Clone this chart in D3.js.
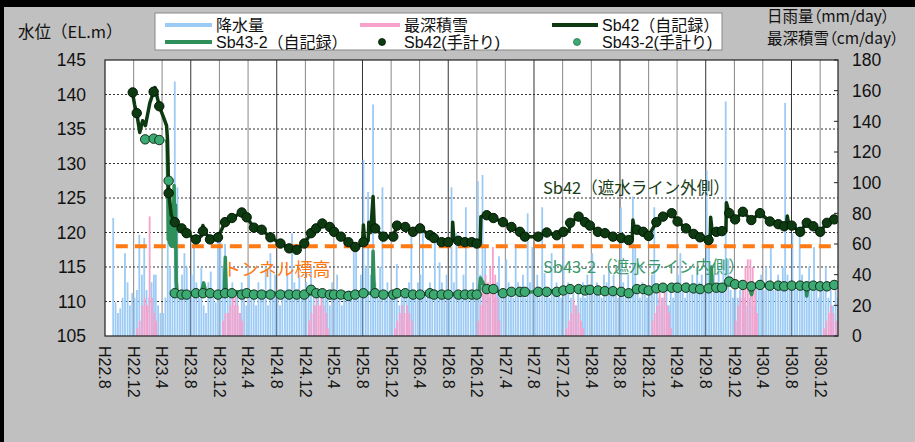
<!DOCTYPE html>
<html><head><meta charset="utf-8">
<script src="https://cdn.jsdelivr.net/npm/d3@7"></script>
<style>body{margin:0;background:#c0c0c0;}svg{display:block}</style>
</head><body>
<svg id="c" width="915" height="442"></svg>
<script>
// ---------------- DATA ----------------
const xTickLabels = ["H22.8","H22.12","H23.4","H23.8","H23.12","H24.4","H24.8","H24.12","H25.4","H25.8","H25.12","H26.4","H26.8","H26.12","H27.4","H27.8","H27.12","H28.4","H28.8","H28.12","H29.4","H29.8","H29.12","H30.4","H30.8","H30.12"];
const leftTicks = [105,110,115,120,125,130,135,140,145];
const rightTicks = [0,20,40,60,80,100,120,140,160,180];
const tunnelLevel = [["2010-09-16",118],["2019-02-15",118]];

// daily rainfall (mm/day) read as 3 samples per month (days below), from 2010-09
const rainStart = [2010, 9];
const rainDays = [5, 15, 25];
const rain = [
 [77,22,15],[18,25,54],[35,20,28],[25,30,66],
 [40,64,30],[25,35,40],[40,20,15],[15,25,60],[45,30,166],[97,30,40],[54,45,30],[40,60,35],[25,45,20],[15,35,42],[30,22,63],[63,45,60],
 [30,25,35],[20,30,15],[35,25,20],[40,30,25],[20,35,30],[25,45,20],[54,30,40],[25,20,30],[30,40,25],[67,35,30],[40,25,30],[35,30,45],
 [25,20,30],[20,25,30],[30,20,35],[25,40,30],[20,30,25],[30,25,55],[60,30,40],[115,45,94],[40,151,35],[30,45,97],[25,35,30],[30,25,47],
 [20,30,25],[25,35,67],[30,25,35],[40,71,30],[25,35,30],[67,30,48],[35,25,40],[30,97,35],[67,30,25],[40,84,30],[25,35,30],[101,40,105],
 [58,30,25],[30,25,35],[52,30,25],[50,35,30],[25,60,35],[30,40,25],[80,35,58],[30,40,25],[84,41,30],[25,54,30],[35,30,25],[58,30,35],
 [25,30,20],[30,25,35],[25,40,30],[54,30,35],[30,25,40],[35,45,30],[40,30,25],[84,35,30],[40,30,91],[58,30,25],[35,30,25],[30,40,84],
 [30,25,20],[25,30,20],[30,25,35],[40,54,30],[25,35,30],[40,30,45],[35,40,30],[108,67,35],[40,30,45],[30,50,153],[50,30,25],[35,25,30],
 [30,25,20],[25,30,20],[35,30,40],[30,45,35],[58,30,35],[40,35,45],[152,40,30],[67,35,30],[71,40,35],[30,45,35],[58,30,25],[35,30,45],
 [25,30,20],[30,25,0]
];
// deepest snow (cm/day), winter months only, same 3 samples per month
const snow = [
 ["2010-12",[0,5,10]],["2011-01",[20,25,20]],["2011-02",[78,25,15]],["2011-03",[10,0,0]],
 ["2011-12",[0,10,15]],["2012-01",[15,20,25]],["2012-02",[26,20,15]],["2012-03",[10,0,0]],
 ["2012-12",[0,10,15]],["2013-01",[20,25,20]],["2013-02",[25,20,15]],["2013-03",[5,0,0]],
 ["2013-12",[0,5,10]],["2014-01",[15,20,15]],["2014-02",[20,15,10]],
 ["2014-12",[10,20,30]],["2015-01",[40,35,45]],["2015-02",[58,40,25]],["2015-03",[10,0,0]],
 ["2015-12",[0,5,10]],["2016-01",[15,24,20]],["2016-02",[15,10,5]],
 ["2016-12",[0,10,15]],["2017-01",[20,30,25]],["2017-02",[30,20,15]],["2017-03",[5,0,0]],
 ["2017-12",[10,20,25]],["2018-01",[35,45,50]],["2018-02",[50,45,30]],["2018-03",[15,0,0]],
 ["2018-12",[0,5,10]],["2019-01",[15,20,15]],["2019-02",[10,5,0]]
];

const sb42Line = [
["2010-11-25",140.5],["2010-12-05",138.5],["2010-12-14",137.3],["2010-12-27",134.5],["2011-01-08",136.2],["2011-01-20",135.5],["2011-02-08",138.8],["2011-02-24",140.4],["2011-03-02",141.0],["2011-03-10",139.8],["2011-03-20",138.3],["2011-04-08",136.6],["2011-04-20",135.5],["2011-04-24",133.5],["2011-04-29",125.7],["2011-05-10",122.5],["2011-05-25",121.5],["2011-06-23",120.6],["2011-07-14",119.9],["2011-08-23",119.0],["2011-09-15",119.5],["2011-09-22",121.0],["2011-09-28",120.2],["2011-10-22",119.0],["2011-11-25",119.3],["2011-12-25",121.5],["2012-01-23",122.1],["2012-03-05",122.9],["2012-03-26",122.2],["2012-04-26",120.7],["2012-05-29",120.4],["2012-07-05",119.3],["2012-08-17",118.4],["2012-09-23",117.7],["2012-10-25",117.5],["2012-11-26",118.4],["2012-12-25",119.9],["2013-01-16",120.6],["2013-02-11",121.3],["2013-03-15",120.8],["2013-04-02",120.1],["2013-05-01",119.4],["2013-06-02",118.6],["2013-07-01",117.9],["2013-08-01",118.2],["2013-08-05",121.1],["2013-08-10",118.8],["2013-08-25",118.8],["2013-08-28",121.5],["2013-09-05",120.0],["2013-09-15",125.2],["2013-09-20",121.0],["2013-09-24",120.6],["2013-10-29",119.4],["2013-12-10",119.4],["2013-12-26",121.0],["2014-01-30",120.8],["2014-03-04",120.1],["2014-04-03",120.6],["2014-05-15",119.6],["2014-06-01",119.2],["2014-07-04",118.6],["2014-08-01",118.6],["2014-08-18",118.8],["2014-08-20",121.5],["2014-08-25",119.0],["2014-09-13",118.8],["2014-10-11",118.6],["2014-11-09",118.6],["2014-11-30",118.4],["2014-12-15",118.6],["2014-12-18",122.3],["2015-01-12",122.5],["2015-02-09",122.1],["2015-03-22",121.5],["2015-04-27",120.8],["2015-06-02",120.1],["2015-06-23",119.4],["2015-08-19",119.4],["2015-09-24",120.0],["2015-11-06",119.6],["2015-12-04",120.1],["2015-12-28",120.2],["2016-01-02",121.4],["2016-02-07",122.3],["2016-03-05",121.5],["2016-03-26",121.0],["2016-04-29",120.1],["2016-05-29",119.9],["2016-07-02",119.4],["2016-08-06",119.2],["2016-09-07",118.9],["2016-09-22",119.0],["2016-09-25",121.8],["2016-10-01",120.6],["2016-10-12",120.4],["2016-11-08",120.1],["2016-12-01",119.5],["2017-01-03",121.5],["2017-01-31",122.3],["2017-03-09",122.8],["2017-04-03",121.6],["2017-05-09",120.6],["2017-06-10",119.8],["2017-07-08",119.3],["2017-08-13",118.9],["2017-08-20",119.0],["2017-08-22",122.2],["2017-08-28",120.3],["2017-09-15",120.1],["2017-10-09",120.2],["2017-10-26",120.2],["2017-10-28",124.3],["2017-11-09",122.8],["2017-12-04",121.9],["2018-01-06",123.0],["2018-02-11",121.8],["2018-03-20",122.8],["2018-05-01",121.6],["2018-06-06",121.2],["2018-07-01",120.9],["2018-07-10",120.9],["2018-07-14",122.4],["2018-07-22",120.9],["2018-08-02",121.0],["2018-09-07",120.1],["2018-10-05",121.4],["2018-11-02",120.9],["2018-12-01",120.1],["2018-12-30",121.4],["2019-01-30",121.9],["2019-02-12",121.8]
];
const sb43Line = [
["2011-04-18",133.5],["2011-04-22",133.0],["2011-04-25",127.5],["2011-04-27",119.0],["2011-04-29",126.0],["2011-05-01",118.5],["2011-05-04",125.0],["2011-05-06",118.2],["2011-05-09",124.0],["2011-05-11",118.0],["2011-05-14",123.0],["2011-05-16",118.0],["2011-05-19",121.0],["2011-05-22",126.8],["2011-05-25",119.0],["2011-05-28",124.0],["2011-05-31",113.0],["2011-06-04",111.4],["2011-07-15",111.0],["2011-09-15",111.3],["2011-09-25",112.7],["2011-10-05",111.3],["2011-12-22",111.2],["2011-12-26",116.4],["2011-12-30",111.5],["2012-12-20",111.0],["2012-12-25",111.7],["2013-01-10",111.2],["2013-09-12",111.2],["2013-09-15",117.3],["2013-09-20",111.5],["2013-10-01",111.2],["2014-12-10",111.0],["2014-12-16",113.4],["2015-01-10",111.8],["2015-02-10",111.8],["2015-03-20",111.2],["2015-12-01",111.6],["2016-02-07",111.8],["2016-09-07",111.2],["2016-10-12",111.8],["2017-08-22",111.9],["2017-08-25",115.0],["2017-08-29",112.0],["2017-10-24",112.0],["2017-10-28",112.9],["2017-11-12",112.8],["2018-02-01",112.2],["2018-02-12",111.0],["2018-02-20",112.3],["2018-10-01",112.3],["2018-10-05",110.8],["2018-10-10",112.2],["2019-01-30",112.4],["2019-02-12",112.3]
];
const sb42Manual = [
["2010-11-27",140.3],["2010-12-14",137.3],["2011-02-24",140.4],["2011-03-20",138.3],["2011-04-29",125.7],["2011-05-25",121.5],["2011-06-23",120.6],["2011-07-14",119.9],["2011-08-23",119.0],["2011-09-22",120.2],["2011-10-22",119.0],["2011-11-25",119.3],["2011-12-25",121.5],["2012-01-23",122.1],["2012-03-05",122.9],["2012-03-26",122.2],["2012-04-26",120.7],["2012-05-29",120.4],["2012-07-05",119.3],["2012-08-17",118.4],["2012-09-23",117.7],["2012-10-25",117.5],["2012-11-26",118.4],["2012-12-25",119.9],["2013-01-16",120.6],["2013-02-11",121.3],["2013-03-15",120.8],["2013-04-02",120.1],["2013-05-01",119.4],["2013-06-02",118.6],["2013-07-01",117.9],["2013-08-05",118.6],["2013-09-24",120.6],["2013-10-29",119.4],["2013-12-10",119.4],["2013-12-26",121.0],["2014-01-30",120.8],["2014-03-04",120.1],["2014-04-03",120.6],["2014-05-15",119.6],["2014-06-01",119.2],["2014-07-04",118.6],["2014-08-01",118.6],["2014-09-13",118.8],["2014-10-11",118.6],["2014-11-09",118.6],["2014-11-30",118.4],["2015-01-12",122.5],["2015-02-09",122.1],["2015-03-22",121.5],["2015-04-27",120.8],["2015-06-02",120.1],["2015-06-23",119.4],["2015-08-19",119.4],["2015-09-24",120.0],["2015-11-06",119.6],["2015-12-04",120.1],["2016-01-02",121.4],["2016-02-07",122.3],["2016-03-05",121.5],["2016-03-26",121.0],["2016-04-29",120.1],["2016-05-29",119.9],["2016-07-02",119.4],["2016-08-06",119.2],["2016-09-07",118.9],["2016-10-12",120.4],["2016-11-08",120.1],["2016-12-01",119.5],["2017-01-03",121.5],["2017-01-31",122.3],["2017-03-09",122.8],["2017-04-03",121.6],["2017-05-09",120.6],["2017-06-10",119.8],["2017-07-08",119.3],["2017-08-13",118.9],["2017-09-15",120.1],["2017-10-09",120.2],["2017-11-09",122.8],["2017-12-04",121.9],["2018-01-06",123.0],["2018-02-11",121.8],["2018-03-20",122.8],["2018-05-01",121.6],["2018-06-06",121.2],["2018-07-01",120.9],["2018-08-02",121.0],["2018-09-07",120.1],["2018-10-05",121.4],["2018-11-02",120.9],["2018-12-01",120.1],["2018-12-30",121.4],["2019-01-30",121.9]
];
const sb43Manual = [
["2011-01-19",133.5],["2011-02-24",133.6],["2011-03-20",133.4],["2011-04-29",127.5],["2011-05-25",111.2],["2011-06-23",111.0],["2011-07-14",111.0],["2011-08-23",111.2],["2011-09-22",111.2],["2011-10-22",111.2],["2011-11-25",111.0],["2011-12-25",111.2],["2012-01-23",111.2],["2012-03-05",111.0],["2012-03-26",111.2],["2012-04-26",111.0],["2012-05-29",111.0],["2012-07-05",111.0],["2012-08-17",111.0],["2012-09-23",111.0],["2012-10-25",111.0],["2012-11-26",111.0],["2012-12-25",111.7],["2013-01-16",111.2],["2013-02-11",111.2],["2013-03-15",111.0],["2013-04-02",111.0],["2013-05-01",111.0],["2013-06-02",110.8],["2013-07-01",111.0],["2013-08-05",111.2],["2013-09-24",111.2],["2013-10-29",111.0],["2013-12-10",111.0],["2013-12-26",111.2],["2014-01-30",111.2],["2014-03-04",111.0],["2014-04-03",111.0],["2014-05-15",111.2],["2014-06-01",111.0],["2014-07-04",111.0],["2014-08-01",111.0],["2014-09-13",111.0],["2014-10-11",111.0],["2014-11-09",111.0],["2014-11-30",111.0],["2015-01-12",111.8],["2015-02-09",111.8],["2015-03-22",111.2],["2015-04-27",111.4],["2015-06-02",111.4],["2015-06-23",111.4],["2015-08-19",111.4],["2015-09-24",111.4],["2015-11-06",111.4],["2015-12-04",111.6],["2016-01-02",111.8],["2016-02-07",111.8],["2016-03-05",111.6],["2016-03-26",111.7],["2016-04-29",111.6],["2016-05-29",111.5],["2016-07-02",111.5],["2016-08-06",111.4],["2016-09-07",111.2],["2016-10-12",111.8],["2016-11-08",111.8],["2016-12-01",111.6],["2017-01-03",111.9],["2017-01-31",112.0],["2017-03-09",112.0],["2017-04-03",112.0],["2017-05-09",112.0],["2017-06-10",111.9],["2017-07-08",111.8],["2017-08-13",111.9],["2017-09-15",112.0],["2017-10-09",112.0],["2017-11-09",112.9],["2017-12-04",112.5],["2018-01-06",112.4],["2018-02-11",112.2],["2018-03-20",112.4],["2018-05-01",112.3],["2018-06-06",112.3],["2018-07-01",112.2],["2018-08-02",112.3],["2018-09-07",112.3],["2018-10-05",112.2],["2018-11-02",112.3],["2018-12-01",112.2],["2018-12-30",112.2],["2019-01-30",112.4]
];
const legendItems = [
 {label:"降水量", kind:"line", color:"#9ccbf6"},
 {label:"最深積雪", kind:"line", color:"#f7a1cc"},
 {label:"Sb42（自記録）", kind:"line", color:"#0d3a10"},
 {label:"Sb43-2（自記録）", kind:"line", color:"#2f8f5a"},
 {label:"Sb42(手計り)", kind:"dot", color:"#0d3a10"},
 {label:"Sb43-2(手計り)", kind:"dot", color:"#3caa72"}
];

// ---------------- CHART ----------------
const svg = d3.select("#c");
const W = 915, H = 442;
const P = {l:105, r:838, t:60, b:336};
const parse = d3.timeParse("%Y-%m-%d");
const FONT = "'Liberation Sans','Noto Sans CJK JP',sans-serif";
const JFONT = "'Noto Sans CJK JP','Liberation Sans',sans-serif";

const x = d3.scaleTime().domain([new Date(2010,7,1), new Date(2019,1,15)]).range([P.l, P.r]);
const yL = d3.scaleLinear().domain([105,145]).range([P.b, P.t]);
const yR = d3.scaleLinear().domain([0,180]).range([P.b, P.t]);

// background frame
svg.append("rect").attr("width",W).attr("height",H).attr("fill","#c0c0c0");
svg.append("rect").attr("width",W).attr("height",7).attr("fill","#000");
svg.append("rect").attr("width",4).attr("height",H).attr("fill","#000");
svg.append("rect").attr("x",P.l).attr("y",P.t).attr("width",P.r-P.l).attr("height",P.b-P.t).attr("fill","#fff");

svg.append("clipPath").attr("id","pc").append("rect")
  .attr("x",P.l).attr("y",P.t).attr("width",P.r-P.l).attr("height",P.b-P.t);
const g = svg.append("g").attr("clip-path","url(#pc)");

// tick dates from labels
const tickDates = xTickLabels.map(s => { const m = s.match(/H(\d+)\.(\d+)/); return new Date(1988 + +m[1], +m[2]-1, 1); });

// gridlines
g.selectAll("line.vg").data(tickDates.slice(1)).join("line")
  .attr("x1",d=>x(d)).attr("x2",d=>x(d)).attr("y1",P.t).attr("y2",P.b)
  .attr("stroke",d=>d.getMonth()===7?"#333":"#888").attr("stroke-width",1);
g.selectAll("line.hg").data(leftTicks.slice(1,-1)).join("line")
  .attr("x1",P.l).attr("x2",P.r).attr("y1",d=>yL(d)).attr("y2",d=>yL(d))
  .attr("stroke","#333").attr("stroke-width",1).attr("stroke-dasharray","2,2");

// rain bars
const rainPts = [];
rain.forEach((tr,i)=>tr.forEach((v,j)=>rainPts.push({d:new Date(rainStart[0], rainStart[1]-1+i, rainDays[j]), v})));
g.selectAll("rect.rain").data(rainPts).join("rect")
  .attr("x",d=>x(d.d)-0.9).attr("width",1.8)
  .attr("y",d=>yR(d.v)).attr("height",d=>yR(0)-yR(d.v)).attr("fill","#9ccbf6");
const snowPts = [];
snow.forEach(([m,tr])=>{ const [yy,mm]=m.split("-").map(Number); tr.forEach((v,j)=>snowPts.push({d:new Date(yy,mm-1,rainDays[j]+2), v})); });
g.selectAll("rect.snow").data(snowPts.filter(d=>d.v>0)).join("rect")
  .attr("x",d=>x(d.d)-0.9).attr("width",1.8)
  .attr("y",d=>yR(d.v)).attr("height",d=>yR(0)-yR(d.v)).attr("fill","#f7a1cc");

// tunnel level
const lineL = d3.line().x(d=>x(parse(d[0]))).y(d=>yL(d[1]));
g.append("path").attr("d",lineL(tunnelLevel)).attr("fill","none")
  .attr("stroke","#ff7a12").attr("stroke-width",4).attr("stroke-dasharray","12,7");

// continuous records
g.append("path").attr("d",lineL(sb43Line)).attr("fill","none")
  .attr("stroke","#2f8f5a").attr("stroke-width",3.5).attr("stroke-linejoin","round");
g.append("path").attr("d",lineL(sb42Line)).attr("fill","none")
  .attr("stroke","#0d3a10").attr("stroke-width",3.5).attr("stroke-linejoin","round");

// manual measurements
g.selectAll("circle.m43").data(sb43Manual).join("circle")
  .attr("cx",d=>x(parse(d[0]))).attr("cy",d=>yL(d[1])).attr("r",4.7)
  .attr("fill","#3caa72").attr("stroke","#12301a").attr("stroke-width",1);
g.selectAll("circle.m42").data(sb42Manual).join("circle")
  .attr("cx",d=>x(parse(d[0]))).attr("cy",d=>yL(d[1])).attr("r",4.7)
  .attr("fill","#0d3a10").attr("stroke","#021a04").attr("stroke-width",1);

// annotations
const ann = [
 {t:"Sb42（遮水ライン外側）", d:"2015-09-08", v:126.4, c:"#173c17", s:16.5},
 {t:"Sb43-2（遮水ライン内側）", d:"2015-09-08", v:114.9, c:"#3a9a6c", s:16.5},
 {t:"トンネル標高", d:"2011-12-16", v:114.6, c:"#ff7a12", s:18}
];
svg.selectAll("text.ann").data(ann).join("text")
  .attr("x",d=>x(parse(d.d))).attr("y",d=>yL(d.v)).attr("dy","0.35em")
  .attr("fill",d=>d.c).attr("font-size",d=>d.s).attr("font-family",JFONT)
  .text(d=>d.t);

// plot border
svg.append("rect").attr("x",P.l).attr("y",P.t).attr("width",P.r-P.l).attr("height",P.b-P.t)
  .attr("fill","none").attr("stroke","#222").attr("stroke-width",1.2);

// right inner ticks
svg.selectAll("line.rt").data(rightTicks).join("line")
  .attr("x1",P.r-4).attr("x2",P.r).attr("y1",d=>yR(d)).attr("y2",d=>yR(d)).attr("stroke","#222");

// axis labels
svg.selectAll("text.yl").data(leftTicks).join("text")
  .attr("x",86).attr("y",d=>yL(d)).attr("dy","0.36em").attr("text-anchor","end")
  .attr("font-size",17.5).attr("font-family",FONT).attr("fill","#111").text(d=>d);
svg.selectAll("text.yr").data(rightTicks).join("text")
  .attr("x",852).attr("y",d=>yR(d)).attr("dy","0.36em").attr("text-anchor","start")
  .attr("font-size",17.5).attr("font-family",FONT).attr("fill","#111").text(d=>d);
svg.selectAll("text.xl").data(xTickLabels).join("text")
  .attr("transform",(d,i)=>`translate(${x(tickDates[i])},346) rotate(90)`)
  .attr("dy","0.35em").attr("text-anchor","start")
  .attr("font-size",16).attr("font-family",FONT).attr("fill","#111").text(d=>d);

// axis titles
svg.append("text").attr("x",18).attr("y",32).attr("dy","0.35em")
  .attr("font-size",16.5).attr("font-family",JFONT).attr("fill","#111").text("水位（EL.m）");
svg.append("text").attr("x",767).attr("y",17).attr("dy","0.35em")
  .attr("font-size",15.5).attr("font-family",JFONT).attr("fill","#111").text("日雨量（mm/day）")
  .style("font-feature-settings","'palt'");
svg.append("text").attr("x",767).attr("y",39).attr("dy","0.35em")
  .attr("font-size",15.5).attr("font-family",JFONT).attr("fill","#111").text("最深積雪（cm/day）")
  .style("font-feature-settings","'palt'");

// legend
svg.append("rect").attr("x",155).attr("y",13).attr("width",567).attr("height",37)
  .attr("fill","#fff").attr("stroke","#888").attr("stroke-width",1);
const colX = [165, 360, 552], colW = [47, 40, 46], rowY = [25, 42];
legendItems.forEach((it,i)=>{
  const c = i%3, r = Math.floor(i/3);
  const lg = svg.append("g");
  if (it.kind==="line") {
    lg.append("line").attr("x1",colX[c]).attr("x2",colX[c]+colW[c]).attr("y1",rowY[r]).attr("y2",rowY[r])
      .attr("stroke",it.color).attr("stroke-width",4);
  } else {
    lg.append("circle").attr("cx",colX[c]+colW[c]/2+2).attr("cy",rowY[r]).attr("r",3.5)
      .attr("fill",it.color).attr("stroke",c===2?"#2a7a50":"#021a04").attr("stroke-width",0.8);
  }
  lg.append("text").attr("x",colX[c]+colW[c]+4).attr("y",rowY[r]).attr("dy","0.36em")
    .attr("font-size",16).attr("font-family",FONT).attr("fill","#111").text(it.label);
});
</script>
</body></html>
